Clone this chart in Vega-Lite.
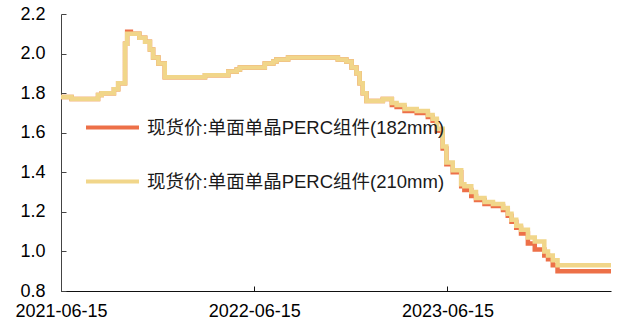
{
  "$schema": "https://vega.github.io/schema/vega-lite/v6.json",
  "width": 550,
  "height": 277,
  "autosize": {"type": "none"},
  "padding": {"left": 61, "top": 14, "right": 7, "bottom": 34},
  "background": "white",
  "config": {
    "view": {"stroke": null},
    "font": "Liberation Sans, Noto Sans CJK SC"
  },
  "datasets": {
    "prices": [
      {"date": "2021-06-15", "series": "现货价:单面单晶PERC组件(182mm)", "price": 1.78},
      {"date": "2021-07-05", "series": "现货价:单面单晶PERC组件(182mm)", "price": 1.77},
      {"date": "2021-08-24", "series": "现货价:单面单晶PERC组件(182mm)", "price": 1.79},
      {"date": "2021-08-31", "series": "现货价:单面单晶PERC组件(182mm)", "price": 1.80},
      {"date": "2021-09-23", "series": "现货价:单面单晶PERC组件(182mm)", "price": 1.82},
      {"date": "2021-10-01", "series": "现货价:单面单晶PERC组件(182mm)", "price": 1.85},
      {"date": "2021-10-14", "series": "现货价:单面单晶PERC组件(182mm)", "price": 2.05},
      {"date": "2021-10-18", "series": "现货价:单面单晶PERC组件(182mm)", "price": 2.11},
      {"date": "2021-10-25", "series": "现货价:单面单晶PERC组件(182mm)", "price": 2.10},
      {"date": "2021-11-10", "series": "现货价:单面单晶PERC组件(182mm)", "price": 2.08},
      {"date": "2021-11-21", "series": "现货价:单面单晶PERC组件(182mm)", "price": 2.06},
      {"date": "2021-11-30", "series": "现货价:单面单晶PERC组件(182mm)", "price": 2.02},
      {"date": "2021-12-06", "series": "现货价:单面单晶PERC组件(182mm)", "price": 1.98},
      {"date": "2021-12-16", "series": "现货价:单面单晶PERC组件(182mm)", "price": 1.95},
      {"date": "2021-12-28", "series": "现货价:单面单晶PERC组件(182mm)", "price": 1.88},
      {"date": "2022-03-14", "series": "现货价:单面单晶PERC组件(182mm)", "price": 1.89},
      {"date": "2022-04-27", "series": "现货价:单面单晶PERC组件(182mm)", "price": 1.91},
      {"date": "2022-05-13", "series": "现货价:单面单晶PERC组件(182mm)", "price": 1.92},
      {"date": "2022-05-19", "series": "现货价:单面单晶PERC组件(182mm)", "price": 1.93},
      {"date": "2022-07-05", "series": "现货价:单面单晶PERC组件(182mm)", "price": 1.95},
      {"date": "2022-07-21", "series": "现货价:单面单晶PERC组件(182mm)", "price": 1.96},
      {"date": "2022-07-27", "series": "现货价:单面单晶PERC组件(182mm)", "price": 1.97},
      {"date": "2022-08-18", "series": "现货价:单面单晶PERC组件(182mm)", "price": 1.98},
      {"date": "2022-11-20", "series": "现货价:单面单晶PERC组件(182mm)", "price": 1.97},
      {"date": "2022-12-06", "series": "现货价:单面单晶PERC组件(182mm)", "price": 1.96},
      {"date": "2022-12-16", "series": "现货价:单面单晶PERC组件(182mm)", "price": 1.93},
      {"date": "2022-12-25", "series": "现货价:单面单晶PERC组件(182mm)", "price": 1.90},
      {"date": "2022-12-31", "series": "现货价:单面单晶PERC组件(182mm)", "price": 1.85},
      {"date": "2023-01-06", "series": "现货价:单面单晶PERC组件(182mm)", "price": 1.80},
      {"date": "2023-01-13", "series": "现货价:单面单晶PERC组件(182mm)", "price": 1.76},
      {"date": "2023-02-13", "series": "现货价:单面单晶PERC组件(182mm)", "price": 1.77},
      {"date": "2023-03-02", "series": "现货价:单面单晶PERC组件(182mm)", "price": 1.74},
      {"date": "2023-03-11", "series": "现货价:单面单晶PERC组件(182mm)", "price": 1.73},
      {"date": "2023-03-26", "series": "现货价:单面单晶PERC组件(182mm)", "price": 1.71},
      {"date": "2023-04-18", "series": "现货价:单面单晶PERC组件(182mm)", "price": 1.70},
      {"date": "2023-05-09", "series": "现货价:单面单晶PERC组件(182mm)", "price": 1.68},
      {"date": "2023-05-18", "series": "现货价:单面单晶PERC组件(182mm)", "price": 1.66},
      {"date": "2023-05-26", "series": "现货价:单面单晶PERC组件(182mm)", "price": 1.61},
      {"date": "2023-06-06", "series": "现货价:单面单晶PERC组件(182mm)", "price": 1.52},
      {"date": "2023-06-13", "series": "现货价:单面单晶PERC组件(182mm)", "price": 1.44},
      {"date": "2023-06-25", "series": "现货价:单面单晶PERC组件(182mm)", "price": 1.40},
      {"date": "2023-07-11", "series": "现货价:单面单晶PERC组件(182mm)", "price": 1.33},
      {"date": "2023-07-17", "series": "现货价:单面单晶PERC组件(182mm)", "price": 1.31},
      {"date": "2023-07-30", "series": "现货价:单面单晶PERC组件(182mm)", "price": 1.28},
      {"date": "2023-08-08", "series": "现货价:单面单晶PERC组件(182mm)", "price": 1.26},
      {"date": "2023-08-24", "series": "现货价:单面单晶PERC组件(182mm)", "price": 1.24},
      {"date": "2023-09-09", "series": "现货价:单面单晶PERC组件(182mm)", "price": 1.23},
      {"date": "2023-09-28", "series": "现货价:单面单晶PERC组件(182mm)", "price": 1.21},
      {"date": "2023-10-07", "series": "现货价:单面单晶PERC组件(182mm)", "price": 1.18},
      {"date": "2023-10-14", "series": "现货价:单面单晶PERC组件(182mm)", "price": 1.15},
      {"date": "2023-10-23", "series": "现货价:单面单晶PERC组件(182mm)", "price": 1.12},
      {"date": "2023-11-01", "series": "现货价:单面单晶PERC组件(182mm)", "price": 1.09},
      {"date": "2023-11-14", "series": "现货价:单面单晶PERC组件(182mm)", "price": 1.04},
      {"date": "2023-11-27", "series": "现货价:单面单晶PERC组件(182mm)", "price": 1.01},
      {"date": "2023-12-15", "series": "现货价:单面单晶PERC组件(182mm)", "price": 0.98},
      {"date": "2023-12-22", "series": "现货价:单面单晶PERC组件(182mm)", "price": 0.96},
      {"date": "2023-12-31", "series": "现货价:单面单晶PERC组件(182mm)", "price": 0.93},
      {"date": "2024-01-09", "series": "现货价:单面单晶PERC组件(182mm)", "price": 0.90},
      {"date": "2024-04-19", "series": "现货价:单面单晶PERC组件(182mm)", "price": 0.90},

      {"date": "2021-06-15", "series": "现货价:单面单晶PERC组件(210mm)", "price": 1.78},
      {"date": "2021-07-05", "series": "现货价:单面单晶PERC组件(210mm)", "price": 1.77},
      {"date": "2021-08-24", "series": "现货价:单面单晶PERC组件(210mm)", "price": 1.79},
      {"date": "2021-08-31", "series": "现货价:单面单晶PERC组件(210mm)", "price": 1.80},
      {"date": "2021-09-23", "series": "现货价:单面单晶PERC组件(210mm)", "price": 1.82},
      {"date": "2021-10-01", "series": "现货价:单面单晶PERC组件(210mm)", "price": 1.85},
      {"date": "2021-10-14", "series": "现货价:单面单晶PERC组件(210mm)", "price": 2.05},
      {"date": "2021-10-18", "series": "现货价:单面单晶PERC组件(210mm)", "price": 2.10},
      {"date": "2021-10-29", "series": "现货价:单面单晶PERC组件(210mm)", "price": 2.10},
      {"date": "2021-11-10", "series": "现货价:单面单晶PERC组件(210mm)", "price": 2.08},
      {"date": "2021-11-21", "series": "现货价:单面单晶PERC组件(210mm)", "price": 2.06},
      {"date": "2021-11-30", "series": "现货价:单面单晶PERC组件(210mm)", "price": 2.02},
      {"date": "2021-12-06", "series": "现货价:单面单晶PERC组件(210mm)", "price": 1.98},
      {"date": "2021-12-16", "series": "现货价:单面单晶PERC组件(210mm)", "price": 1.95},
      {"date": "2021-12-28", "series": "现货价:单面单晶PERC组件(210mm)", "price": 1.88},
      {"date": "2022-03-14", "series": "现货价:单面单晶PERC组件(210mm)", "price": 1.89},
      {"date": "2022-04-27", "series": "现货价:单面单晶PERC组件(210mm)", "price": 1.91},
      {"date": "2022-05-13", "series": "现货价:单面单晶PERC组件(210mm)", "price": 1.92},
      {"date": "2022-05-19", "series": "现货价:单面单晶PERC组件(210mm)", "price": 1.93},
      {"date": "2022-07-05", "series": "现货价:单面单晶PERC组件(210mm)", "price": 1.95},
      {"date": "2022-07-21", "series": "现货价:单面单晶PERC组件(210mm)", "price": 1.96},
      {"date": "2022-07-27", "series": "现货价:单面单晶PERC组件(210mm)", "price": 1.97},
      {"date": "2022-08-18", "series": "现货价:单面单晶PERC组件(210mm)", "price": 1.98},
      {"date": "2022-11-20", "series": "现货价:单面单晶PERC组件(210mm)", "price": 1.97},
      {"date": "2022-12-06", "series": "现货价:单面单晶PERC组件(210mm)", "price": 1.96},
      {"date": "2022-12-16", "series": "现货价:单面单晶PERC组件(210mm)", "price": 1.93},
      {"date": "2022-12-25", "series": "现货价:单面单晶PERC组件(210mm)", "price": 1.90},
      {"date": "2022-12-31", "series": "现货价:单面单晶PERC组件(210mm)", "price": 1.85},
      {"date": "2023-01-06", "series": "现货价:单面单晶PERC组件(210mm)", "price": 1.80},
      {"date": "2023-01-13", "series": "现货价:单面单晶PERC组件(210mm)", "price": 1.76},
      {"date": "2023-02-13", "series": "现货价:单面单晶PERC组件(210mm)", "price": 1.77},
      {"date": "2023-03-02", "series": "现货价:单面单晶PERC组件(210mm)", "price": 1.75},
      {"date": "2023-03-11", "series": "现货价:单面单晶PERC组件(210mm)", "price": 1.74},
      {"date": "2023-03-26", "series": "现货价:单面单晶PERC组件(210mm)", "price": 1.72},
      {"date": "2023-04-18", "series": "现货价:单面单晶PERC组件(210mm)", "price": 1.71},
      {"date": "2023-05-09", "series": "现货价:单面单晶PERC组件(210mm)", "price": 1.69},
      {"date": "2023-05-18", "series": "现货价:单面单晶PERC组件(210mm)", "price": 1.67},
      {"date": "2023-05-26", "series": "现货价:单面单晶PERC组件(210mm)", "price": 1.62},
      {"date": "2023-06-06", "series": "现货价:单面单晶PERC组件(210mm)", "price": 1.53},
      {"date": "2023-06-13", "series": "现货价:单面单晶PERC组件(210mm)", "price": 1.45},
      {"date": "2023-06-25", "series": "现货价:单面单晶PERC组件(210mm)", "price": 1.41},
      {"date": "2023-07-11", "series": "现货价:单面单晶PERC组件(210mm)", "price": 1.34},
      {"date": "2023-07-17", "series": "现货价:单面单晶PERC组件(210mm)", "price": 1.33},
      {"date": "2023-07-30", "series": "现货价:单面单晶PERC组件(210mm)", "price": 1.30},
      {"date": "2023-08-08", "series": "现货价:单面单晶PERC组件(210mm)", "price": 1.27},
      {"date": "2023-08-24", "series": "现货价:单面单晶PERC组件(210mm)", "price": 1.25},
      {"date": "2023-09-09", "series": "现货价:单面单晶PERC组件(210mm)", "price": 1.24},
      {"date": "2023-09-28", "series": "现货价:单面单晶PERC组件(210mm)", "price": 1.22},
      {"date": "2023-10-07", "series": "现货价:单面单晶PERC组件(210mm)", "price": 1.19},
      {"date": "2023-10-14", "series": "现货价:单面单晶PERC组件(210mm)", "price": 1.16},
      {"date": "2023-10-23", "series": "现货价:单面单晶PERC组件(210mm)", "price": 1.13},
      {"date": "2023-11-01", "series": "现货价:单面单晶PERC组件(210mm)", "price": 1.11},
      {"date": "2023-11-14", "series": "现货价:单面单晶PERC组件(210mm)", "price": 1.07},
      {"date": "2023-11-27", "series": "现货价:单面单晶PERC组件(210mm)", "price": 1.05},
      {"date": "2023-12-15", "series": "现货价:单面单晶PERC组件(210mm)", "price": 1.00},
      {"date": "2023-12-22", "series": "现货价:单面单晶PERC组件(210mm)", "price": 0.98},
      {"date": "2023-12-31", "series": "现货价:单面单晶PERC组件(210mm)", "price": 0.955},
      {"date": "2024-01-09", "series": "现货价:单面单晶PERC组件(210mm)", "price": 0.93},
      {"date": "2024-04-19", "series": "现货价:单面单晶PERC组件(210mm)", "price": 0.93}
    ]
  },
  "data": {"name": "prices"},
  "mark": {"type": "line", "interpolate": "step-after", "strokeWidth": 4.5, "strokeJoin": "miter"},
  "encoding": {
    "x": {
      "field": "date",
      "type": "temporal",
      "scale": {
        "type": "utc",
        "domain": [
          {"year": 2021, "month": 6, "date": 15, "utc": true},
          {"year": 2024, "month": 4, "date": 19, "utc": true}
        ]
      },
      "axis": {
        "title": null,
        "values": [
          {"year": 2021, "month": 6, "date": 15, "utc": true},
          {"year": 2022, "month": 6, "date": 15, "utc": true},
          {"year": 2023, "month": 6, "date": 15, "utc": true}
        ],
        "format": "%Y-%m-%d",
        "grid": false,
        "domainColor": "#111111",
        "domainWidth": 1,
        "tickColor": "#111111",
        "tickSize": -5,
        "labelPadding": 16,
        "labelFont": "Liberation Sans",
        "labelFontSize": 18,
        "labelColor": "#000000",
        "labelFlush": false,
        "labelOverlap": false
      }
    },
    "y": {
      "field": "price",
      "type": "quantitative",
      "scale": {"domain": [0.8, 2.2], "nice": false, "zero": false},
      "axis": {
        "title": null,
        "values": [0.8, 1.0, 1.2, 1.4, 1.6, 1.8, 2.0, 2.2],
        "format": ".1f",
        "grid": false,
        "domainColor": "#444444",
        "domainWidth": 1,
        "tickColor": "#444444",
        "tickSize": -5,
        "labelPadding": 21,
        "labelFont": "Liberation Sans",
        "labelFontSize": 18,
        "labelColor": "#000000",
        "labelFlush": false,
        "labelOverlap": false
      }
    },
    "color": {
      "field": "series",
      "type": "nominal",
      "scale": {
        "domain": ["现货价:单面单晶PERC组件(182mm)", "现货价:单面单晶PERC组件(210mm)"],
        "range": ["#ED7048", "#F1D68A"]
      },
      "legend": {
        "title": null,
        "orient": "none",
        "legendX": 23,
        "legendY": 85,
        "padding": 0,
        "symbolType": "stroke",
        "symbolSize": 2809,
        "symbolStrokeWidth": 4,
        "labelFontSize": 18.5,
        "labelFont": "Liberation Sans, Noto Sans CJK SC",
        "labelColor": "#1a1a1a",
        "labelLimit": 0,
        "labelOffset": 6,
        "rowPadding": 16
      }
    }
  }
}
